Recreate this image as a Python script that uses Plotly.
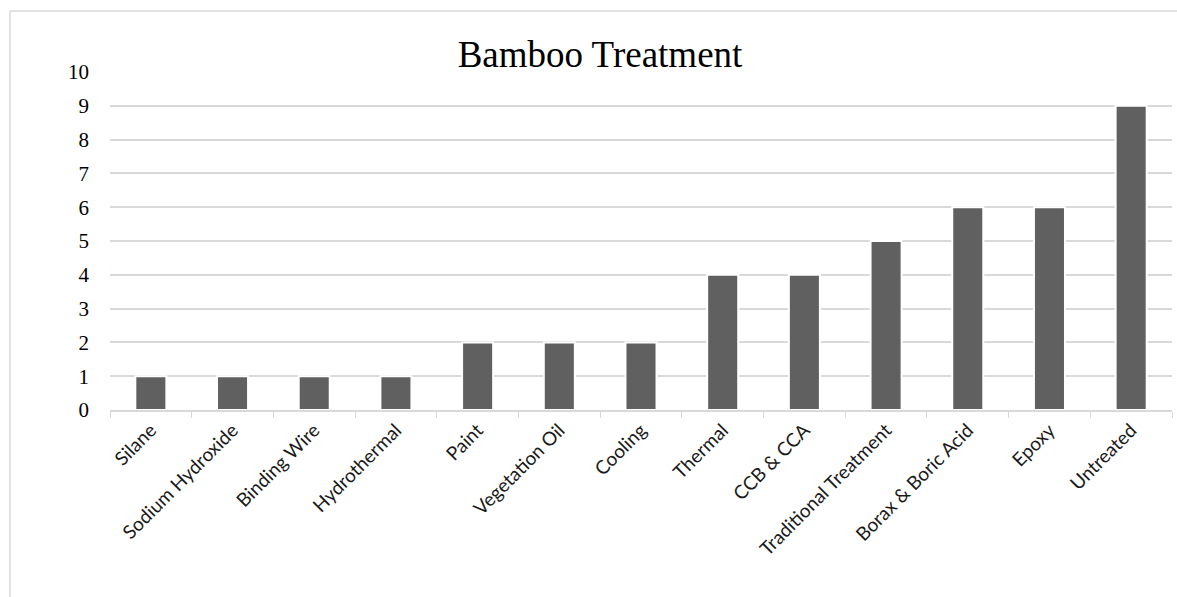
import plotly.graph_objects as go

categories = ["Silane", "Sodium Hydroxide", "Binding Wire", "Hydrothermal", "Paint",
              "Vegetation Oil", "Cooling", "Thermal", "CCB & CCA", "Traditional Treatment",
              "Borax & Boric Acid", "Epoxy", "Untreated"]
values = [1, 1, 1, 1, 2, 2, 2, 4, 4, 5, 6, 6, 9]
y_ticks = [0, 1, 2, 3, 4, 5, 6, 7, 8, 9, 10]

W, H = 1177, 597
L, R, T, B = 110, 5, 72, 187
pw, ph = W - L - R, H - T - B

def px_x(px):
    return (px - L) / pw

def px_y(py):
    return (H - B - py) / ph

fig = go.Figure(go.Bar(
    x=categories, y=values,
    marker=dict(color="#606060", line=dict(color="white", width=2)),
))

fig.update_layout(
    width=W, height=H,
    margin=dict(l=L, r=R, t=T, b=B),
    paper_bgcolor="white", plot_bgcolor="white",
    bargap=0.62,
    showlegend=False,
    title=dict(text="Bamboo Treatment", x=600 / W, xanchor="center",
               y=1 - 54 / H, yanchor="middle", yref="container",
               font=dict(family="Liberation Serif", size=37, color="black")),
    xaxis=dict(showline=True, linecolor="#d9d9d9", linewidth=1.5,
               ticks="outside", tickson="boundaries", ticklen=6, tickcolor="#d9d9d9",
               tickangle=-45, tickfont=dict(family="Lato", size=19, color="#1a1a1a"),
               showgrid=False),
    yaxis=dict(range=[0, 10], tickvals=y_ticks, showgrid=True, gridcolor="#d9d9d9",
               gridwidth=1.5, zeroline=False, showline=False, ticks="",
               ticklabelstandoff=20,
               tickfont=dict(family="Liberation Serif", size=21, color="black")),
    shapes=[
        dict(type="line", xref="paper", yref="paper", x0=px_x(10), x1=px_x(W + 5),
             y0=px_y(11), y1=px_y(11), line=dict(color="#d9d9d9", width=1.5)),
        dict(type="line", xref="paper", yref="paper", x0=px_x(10), x1=px_x(10),
             y0=px_y(11), y1=px_y(H + 5), line=dict(color="#d9d9d9", width=1.5)),
    ],
)

fig.write_html("out.html")
